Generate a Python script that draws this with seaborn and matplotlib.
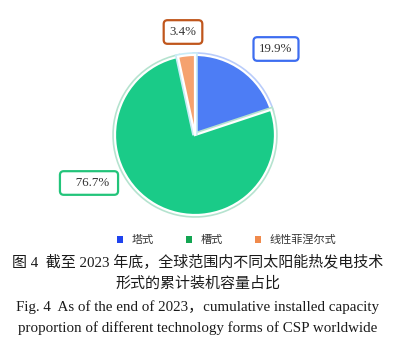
import matplotlib
matplotlib.use("Agg")
import matplotlib.pyplot as plt
import matplotlib.patheffects as pe
from matplotlib.patches import Patch
import seaborn as sns

# Installed-capacity shares of CSP technology forms (end of 2023)
categories = ["塔式", "槽式", "线性菲涅尔式"]
shares = [19.9, 76.7, 3.4]
wedge_colors = ["#4d7df5", "#1acb88", "#f5a26f"]
halo_colors = ["#b9ccfb", "#b5e3cf", "#c9ecf7"]
label_edge_colors = ["#3d6df0", "#22c47a", "#c0561c"]
legend_colors = ["#1f43ee", "#13a552", "#f08a4c"]
explode = [0.12, 0.02, 0.07]
label_pos = [(276, 49), (89, 183), (183, 32)]
label_side_pad = [(0, 0), (3, 1), (0, 0)]

caption_cn = ["图 4  截至 2023 年底，全球范围内不同太阳能热发电技术",
              "形式的累计装机容量占比"]
caption_en = ["Fig. 4  As of the end of 2023，cumulative installed capacity",
              "proportion of different technology forms of CSP worldwide"]

sns.set_theme(style="white")
plt.rcParams["font.family"] = ["Liberation Serif", "Noto Sans CJK SC", "DejaVu Sans"]

W, H = 396, 346
fig = plt.figure(figsize=(W / 100, H / 100), dpi=100)
fig.patch.set_facecolor("white")
ax = fig.add_axes([0, 0, 1, 1])

cx, cy, r = 195, H - 135, 80
wedges, _ = ax.pie(shares, colors=wedge_colors, explode=explode, startangle=90,
                   counterclock=False, center=(cx, cy), radius=r,
                   wedgeprops=dict(edgecolor="white", linewidth=1.6),
                   frame=True)
ax.set_xlim(0, W)
ax.set_ylim(0, H)
ax.set_aspect("equal")
ax.axis("off")
for w, hc in zip(wedges, halo_colors):
    w.set_path_effects([pe.Stroke(linewidth=4.0, foreground=hc), pe.Normal()])

# value labels in rounded boxes
for v, (x, y), ec, (lp, rp) in zip(shares, label_pos, label_edge_colors,
                                   label_side_pad):
    ax.text(x, H - y, " " * lp + f"{v:.1f}%" + " " * rp, ha="center",
            va="center", fontsize=9.3, color="#333333",
            family=["Liberation Serif"],
            bbox=dict(boxstyle="round,pad=0.45,rounding_size=0.3",
                      fc="white", ec=ec, lw=1.6))

# legend
handles = [Patch(facecolor=c, edgecolor="none", label=lab)
           for c, lab in zip(legend_colors, categories)]
fig.legend(handles=handles, loc="center", bbox_to_anchor=(0.572, 1 - 240 / H),
           ncol=3, frameon=False, handlelength=0.55,
           handleheight=0.55, handletextpad=0.75, columnspacing=2.9,
           prop={"family": ["Noto Sans CJK SC"], "size": 8})
for t in fig.legends[0].get_texts():
    t.set_color("#333333")

# caption
for i, line in enumerate(caption_cn):
    fig.text(0.5, 1 - (262 + 22 * i) / H, line, ha="center", va="center",
             fontsize=10.8, color="#1a1a1a",
             family=["Liberation Serif", "Noto Sans CJK SC"])
for i, line in enumerate(caption_en):
    fig.text(0.5, 1 - (307 + 21 * i) / H, line, ha="center", va="center",
             fontsize=10.8, color="#1a1a1a",
             family=["Liberation Serif", "Noto Sans CJK SC"])

fig.savefig("out.png", dpi=100, facecolor="white")
